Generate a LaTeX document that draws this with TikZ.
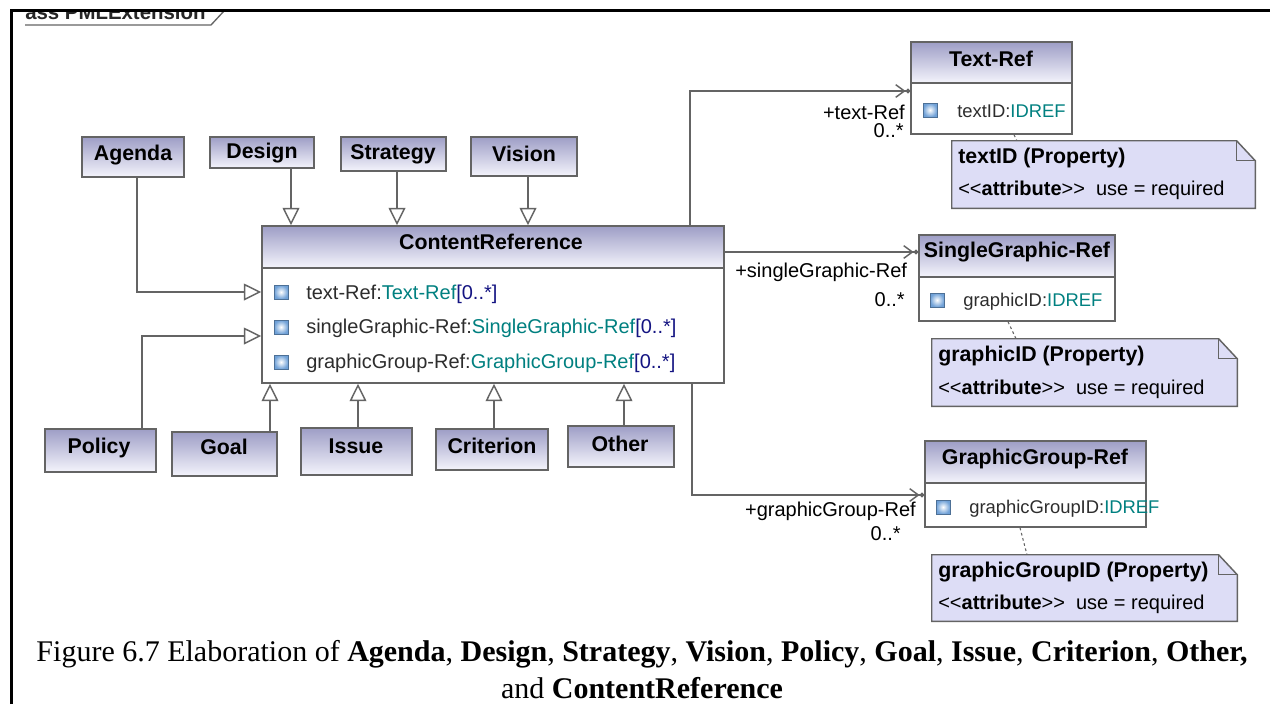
\documentclass[tikz,border=0pt]{standalone}
\usepackage{fontspec}
\setmainfont{Liberation Sans}
\newfontfamily\capfont{Liberation Serif}
\usetikzlibrary{arrows.meta,fit}
\definecolor{clstop}{RGB}{158,158,198}
\definecolor{clsbot}{RGB}{244,244,252}
\definecolor{notefill}{RGB}{221,221,246}
\definecolor{bordergray}{RGB}{100,100,100}
\definecolor{typeteal}{RGB}{0,128,128}
\definecolor{multblue}{RGB}{20,20,130}
\definecolor{attrgray}{RGB}{45,45,45}
\definecolor{iconblue}{RGB}{110,160,215}
\newcommand\lguil{<\kern0pt<}
\newcommand\rguil{>\kern0pt>}
\begin{document}
\begin{tikzpicture}[x=0.75pt,y=-0.75pt,
  uml/.style={draw=bordergray, line width=1.1pt, inner sep=0pt},
  cls/.style={uml, top color=clstop, bottom color=clsbot},
  body/.style={uml, fill=white},
  clslabel/.style={inner sep=0pt, font=\bfseries\fontsize{16}{19}\selectfont},
  attr/.style={anchor=west, inner sep=0pt, font=\fontsize{15}{18}\selectfont, text=attrgray},
  attrs/.style={attr, font=\fontsize{13.8}{17}\selectfont},
  icon/.style={draw=iconblue!70!black, line width=0.4pt, inner color=white, outer color=iconblue, minimum size=10.5pt, inner sep=0pt},
  gen/.style={draw=bordergray, line width=1.1pt, -{Triangle[open, length=13pt, width=12.5pt, fill=white]}},
  assoc/.style={draw=bordergray, line width=1.1pt, -{Straight Barb[length=6.5pt,width=9.5pt] Circle[length=3.5pt]}},
  role/.style={inner sep=0pt, font=\fontsize{15}{18}\selectfont, text=black},
  note/.style={draw=bordergray, line width=1.1pt, fill=notefill},
  notefold/.style={draw=bordergray, line width=1.1pt},
  ntitle/.style={anchor=west, inner sep=0pt, font=\bfseries\fontsize{16}{19}\selectfont},
  ntext/.style={anchor=west, inner sep=0pt, font=\fontsize{15}{18}\selectfont},
  link/.style={draw=bordergray, line width=0.8pt, dashed, dash pattern=on 2pt off 2pt},
  capt/.style={inner sep=0pt, font=\capfont\fontsize{22.5}{27}\selectfont}
]
\useasboundingbox (0,0) rectangle (1270,704);
\fill[white] (0,0) rectangle (1270,704);

% frame title (cut off)
\begin{scope}
\clip (11,12) rectangle (300,30);
\node[anchor=base west, inner sep=0pt, font=\bfseries\fontsize{15.3}{18}\selectfont, text=black!85] (title) at (25,19.5) {ass PMLExtension};
\end{scope}
\draw[bordergray, line width=1pt] (25,25) -- (211,25) -- (224,11);
\draw[black, line width=2.25pt] (11,704) -- (11,10) -- (1270,10);

% top classes
\node[cls, fit={(82,137)(184,177)}] (agenda) {};
\node[clslabel] (agendaL) at (133,155) {Agenda};
\node[cls, fit={(210,137)(314,168)}] (design) {};
\node[clslabel] (designL) at (262,153) {Design};
\node[cls, fit={(341,137)(446,171)}] (strategy) {};
\node[clslabel] (strategyL) at (393,154) {Strategy};
\node[cls, fit={(471,137)(577,176)}] (vision) {};
\node[clslabel] (visionL) at (524,154) {Vision};

% bottom classes
\node[cls, fit={(45,429)(156,472)}] (policy) {};
\node[clslabel] (policyL) at (99,448) {Policy};
\node[cls, fit={(172,432)(277,476)}] (goal) {};
\node[clslabel] (goalL) at (224,447) {Goal};
\node[cls, fit={(301,428)(412,475)}] (issue) {};
\node[clslabel] (issueL) at (356,446) {Issue};
\node[cls, fit={(436,429)(548,470)}] (criterion) {};
\node[clslabel] (criterionL) at (492,446) {Criterion};
\node[cls, fit={(568,426)(674,467)}] (other) {};
\node[clslabel] (otherL) at (620,444) {Other};

% ContentReference
\node[cls, fit={(262,226)(724,268)}] (crh) {};
\node[clslabel] (crhL) at (491,242) {ContentReference};
\node[body, fit={(262,268)(724,383)}] (crb) {};
\node[icon] (ic1) at (281,292) {};
\node[attr] (a1) at (306,294) {text-Ref:\textcolor{typeteal}{Text-Ref}\textcolor{multblue}{[0..*]}};
\node[icon] (ic2) at (281,327) {};
\node[attr] (a2) at (306,328) {singleGraphic-Ref:\textcolor{typeteal}{SingleGraphic-Ref}\textcolor{multblue}{[0..*]}};
\node[icon] (ic3) at (281,362) {};
\node[attr] (a3) at (306,363) {graphicGroup-Ref:\textcolor{typeteal}{GraphicGroup-Ref}\textcolor{multblue}{[0..*]}};

% Text-Ref
\node[cls, fit={(911,42)(1072,83)}] (trh) {};
\node[clslabel] (trhL) at (991,59) {Text-Ref};
\node[body, fit={(911,83)(1072,134)}] (trb) {};
\node[icon] (ic4) at (930,110) {};
\node[attrs] (a4) at (957,111) {textID:\textcolor{typeteal}{IDREF}};

% SingleGraphic-Ref
\node[cls, fit={(919,235)(1115,277)}] (sgh) {};
\node[clslabel] (sghL) at (1017,252) {SingleGraphic-Ref};
\node[body, fit={(919,277)(1115,321)}] (sgb) {};
\node[icon] (ic5) at (937,300) {};
\node[attrs] (a5) at (963,302) {graphicID:\textcolor{typeteal}{IDREF}};

% GraphicGroup-Ref
\node[cls, fit={(925,441)(1146,483)}] (ggh) {};
\node[clslabel] (gghL) at (1035,459) {GraphicGroup-Ref};
\node[body, fit={(925,483)(1146,527)}] (ggb) {};
\node[icon] (ic6) at (943,507) {};
\node[attrs] (a6) at (969,509) {graphicGroupID:\textcolor{typeteal}{IDREF}};

% notes
\node[inner sep=0pt, fit={(952,141)(1255,208)}] (n1) {};
\node[inner sep=0pt, fit={(932,339)(1237,406)}] (n2) {};
\node[inner sep=0pt, fit={(932,555)(1237,621)}] (n3) {};
\foreach \n in {n1,n2,n3}{
  \draw[note] (\n.north west) -- ([xshift=-14pt]\n.north east) -- ([yshift=-15pt]\n.north east) -- (\n.south east) -- (\n.south west) -- cycle;
  \draw[notefold] ([xshift=-14pt]\n.north east) |- ([yshift=-15pt]\n.north east);
}
\node[ntitle] (n1t) at (958,158) {textID (Property)};
\node[ntext] (n1s) at (958,190) {\lguil\textbf{attribute}\rguil\ \ use = required};
\node[ntitle] (n2t) at (938,356) {graphicID (Property)};
\node[ntext] (n2s) at (938,389) {\lguil\textbf{attribute}\rguil\ \ use = required};
\node[ntitle] (n3t) at (938,572) {graphicGroupID (Property)};
\node[ntext] (n3s) at (938,604) {\lguil\textbf{attribute}\rguil\ \ use = required};

\draw[link] (trb.south -| 1014,0) -- (n1.north -| 1017,0);
\draw[link] (sgb.south -| 1008,0) -- (n2.north -| 1016,0);
\draw[link] (ggb.south -| 1020,0) -- (n3.north -| 1027,0);

% generalizations
\draw[gen] (agenda.south -| 137,0) |- (crb.west |- 0,292);
\draw[gen] (design.south -| 291,0) -- (crh.north -| 291,0);
\draw[gen] (strategy.south -| 397,0) -- (crh.north -| 397,0);
\draw[gen] (vision.south -| 528,0) -- (crh.north -| 528,0);
\draw[gen] (policy.north -| 142,0) |- (crb.west |- 0,336);
\draw[gen] (goal.north -| 270,0) -- (crb.south -| 270,0);
\draw[gen] (issue.north -| 358,0) -- (crb.south -| 358,0);
\draw[gen] (criterion.north -| 494,0) -- (crb.south -| 494,0);
\draw[gen] (other.north -| 624,0) -- (crb.south -| 624,0);

% associations
\draw[assoc] (crh.north -| 690,0) |- (trb.west |- 0,91);
\draw[assoc] (crh.east |- 0,252) -- (sgh.west |- 0,252);
\draw[assoc] (crb.south -| 692,0) |- (ggb.west |- 0,495);

\node[role, anchor=east] (r1) at (905,112) {+text-Ref};
\node[role, anchor=east] (m1) at (904,131) {0..*};
\node[role, anchor=west] (r2) at (735,272) {+singleGraphic-Ref};
\node[role, anchor=east] (m2) at (905,300) {0..*};
\node[role, anchor=east] (r3) at (916,511) {+graphicGroup-Ref};
\node[role, anchor=east] (m3) at (901,534) {0..*};

% caption
\node[capt] (cap1) at (642,654) {Figure 6.7 Elaboration of \textbf{Agenda}, \textbf{Design}, \textbf{Strategy}, \textbf{Vision}, \textbf{Policy}, \textbf{Goal}, \textbf{Issue}, \textbf{Criterion}, \textbf{Other,}};
\node[capt] (cap2) at (642,688) {and \textbf{ContentReference}};
\end{tikzpicture}
\end{document}
